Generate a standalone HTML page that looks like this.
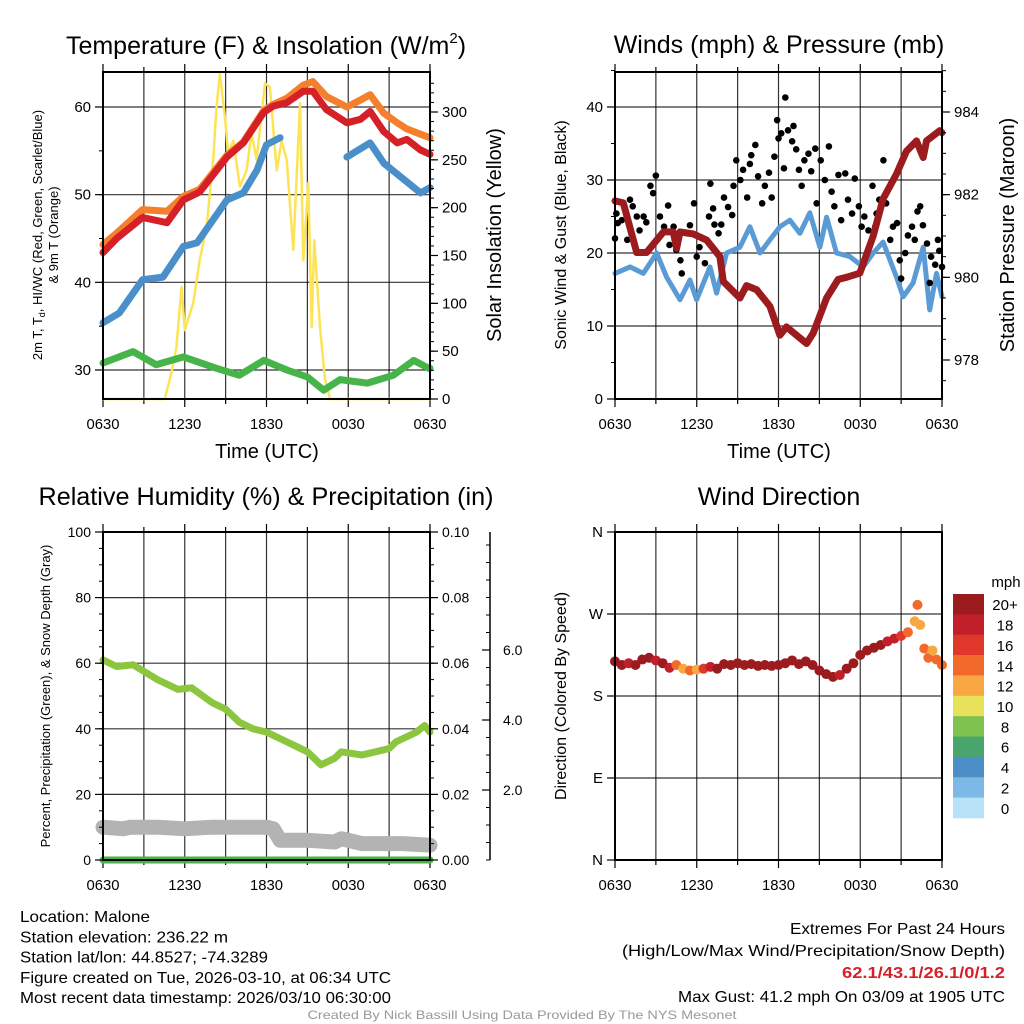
<!DOCTYPE html>
<html><head><meta charset="utf-8"><style>
body{margin:0;background:#fff}
svg{display:block;font-family:"Liberation Sans",sans-serif}
</style></head><body>
<svg id="c" width="1024" height="1024" viewBox="0 0 1024 1024"></svg>
<script>
// ---------- Panel 1 data: temperature ----------
const redHours=[0,1,2.9,4.7,5.9,7.1,9.1,10.3,11.8,12.5,13.5,14.7,15.4,16.4,17.9,18.9,19.6,20.6,21.6,22.3,23.3,24];
const redTemp=[43.4,45,47.4,46.8,49.4,50.3,54.3,55.9,59.4,60.1,60.5,61.8,61.8,59.7,58.2,58.6,59.5,57.2,55.9,56.3,55.1,54.6];
const orangeTemp=[44.3,45.6,48.3,48.1,49.8,50.6,54.5,56,59.6,60.3,61,62.5,62.9,61.2,60,60.8,61.4,59.3,58.2,57.5,56.9,56.5];
const blueHours=[0,1.2,2.9,4.4,5.9,6.9,9.1,10.3,11.3,12,13,16.5,17.9,19.6,20.6,21.8,23.3,24];
const blueTemp=[35.4,36.5,40.3,40.6,44.1,44.5,49.4,50.2,52.8,55.7,56.5,null,54.3,55.9,53.6,52.1,50.2,50.8];
const greenHours=[0,2.2,3.9,5.9,8.3,10,11.8,13.5,15,16.2,17.4,19.4,21.3,22.8,23.9,24];
const greenTemp=[30.8,32.1,30.6,31.5,30.2,29.4,31.1,30,29.2,27.7,28.9,28.5,29.4,31.1,30.2,30.2];
const solarHours=[0,4.53,5.02,5.39,5.76,6,6.62,7.1,7.6,8.09,8.33,8.58,8.95,9.19,9.56,10.05,10.54,10.9,11.27,11.89,12.25,12.75,13.11,13.48,13.97,14.46,14.7,15.07,15.32,15.5,15.93,16.3,16.67,24];
const solarVals=[0,0,27,54,117,72,100,145,180,250,305,340,295,257,270,222,239,278,250,330,326,239,270,250,156,309,145,226,75,166,75,20,0,0];
const timeTicks=["0630","1230","1830","0030","0630"];
const tempTicks=[30,40,50,60];
const solarTicks=[0,50,100,150,200,250,300];
// ---------- Panel 2 data: winds & pressure ----------
const windHours=[0,1.1,2.08,3.06,3.79,4.77,5.5,5.99,6.97,7.46,8.19,9.17,9.9,10.64,11.37,12.1,12.84,13.57,14.3,15.04,15.53,16.26,17.24,18.22,18.95,19.68,20.66,21.15,21.88,22.62,23.1,23.6,24];
const windVals=[17.2,18.1,17.2,20,16.7,13.6,16.3,13.6,18.1,14.5,20,20.8,23.6,20,21.8,23.6,24.5,22.7,25.5,20.8,24.9,20,19.5,18.1,20,21.5,16.7,14,15.9,20.8,12.2,17.2,14];
const gustHours=[0,0.1,0.2,0.5,0.9,1.1,1.3,1.6,1.8,2.1,2.3,2.6,2.8,3,3.3,3.6,3.9,4,4.3,4.5,4.8,4.9,5.3,5.5,5.8,6,6.2,6.6,6.9,7,7.2,7.3,7.6,7.8,8,8.3,8.6,8.7,8.9,9.2,9.4,9.7,9.9,10,10.3,10.5,10.8,11,11.3,11.5,11.7,11.9,12,12.2,12.4,12.5,12.7,13,13.1,13.3,13.5,13.7,13.9,14.2,14.4,14.7,14.8,15.1,15.4,15.7,15.9,16.1,16.4,16.6,16.9,17.1,17.4,17.6,17.9,18.1,18.3,18.6,18.9,19.1,19.2,19.4,19.7,19.9,20.2,20.4,20.7,20.9,21,21.3,21.5,21.8,22,22.2,22.4,22.6,22.9,23.1,23.2,23.5,23.7,23.8,24];
const gustVals=[22,25.4,24.1,24.5,21.8,27.3,26.4,25,23.1,25,24.2,29.2,28.2,30.6,25,23.6,26.5,21.1,23.6,20.4,19,17.2,22.7,23.8,26.8,19.5,20.8,18.6,25,29.5,26.1,23.9,22.7,23.9,27.6,26.3,25.2,29.2,32.7,30,31.4,27.6,32.2,33.4,34.8,30.5,26.8,29.2,31,27.6,33.2,38.2,35.7,36.4,31.6,41.3,36.8,35.3,37.4,34.2,31.4,29.2,32.7,33.6,31.2,34.3,26.8,32.7,30,34.6,28.4,26.4,30.7,24.5,30.9,27.3,25.4,30.2,26.4,23.6,25,23.1,29.2,23.6,25.4,27.3,32.7,26.8,21.8,23.6,24.1,19,16.5,20,22.4,23.6,21.8,25.7,26.4,23.8,21.3,15.9,19.5,18.4,21.8,20.3,18.1];
const presHours=[0,0.61,1.59,2.32,3.55,4.28,4.52,4.77,5.75,6.72,7.7,7.95,9.17,9.66,10.39,11.37,12.1,12.59,14.06,14.55,15.53,16.38,16.99,17.97,18.95,19.68,20.66,21.39,22.13,22.62,22.86,23.84,24];
const presVals=[981.85,981.8,980.6,980.6,981.1,981.1,980.7,981.1,981.05,980.9,980.5,979.9,979.5,979.8,979.7,979.3,978.6,978.8,978.4,978.65,979.5,979.95,980.0,980.1,981.0,981.9,982.5,983.05,983.3,982.9,983.3,983.55,983.5];
const windTicks=[0,10,20,30,40];
const presTicks=[978,980,982,984];
// ---------- Panel 3 data: RH ----------
const rhHours=[0,1,2.2,4,5.5,6.5,8,9,10,11,12,13,14,15,15.5,16,17,17.5,19,20,21,21.5,22.5,23,23.6,24];
const rhVals=[61,59,59.5,55,52,52.5,48,46,42,40,39,37,35,33,31,29,31,33,32,33,34,36,38,39,41,39];
const snowHours=[0,1.5,2,4,6,8,10,12,12.5,13,15,17,17.5,18,19,20,22,24];
const snowVals=[10,9.5,10,10,9.5,10,10,10,9.5,6,6,5.5,6.5,6,5,5,5,4.5];
const precipHours=[0,24];
const precipVals=[0,0];
const rhTicks=[0,20,40,60,80,100];
const precipTicks=["0.00","0.02","0.04","0.06","0.08","0.10"];
const snowTicks=[2.0,4.0,6.0];
// ---------- Panel 4 data: wind direction ----------
const dirHours=[0,0.5,1,1.5,2,2.5,3,3.5,4,4.5,5,5.5,6,6.5,7,7.5,8,8.5,9,9.5,10,10.5,11,11.5,12,12.5,13,13.5,14,14.5,15,15.5,16,16.5,17,17.5,18,18.5,19,19.5,20,20.5,21,21.5,22,22.2,22.4,22.7,23,23.3,23.6,24];
const dirVals=[218,214,216,214,220,222,219,216,211,214,210,208,209,210,212,210,215,214,216,214,215,213,214,213,214,216,219,215,218,214,208,204,201,203,210,216,225,230,233,236,240,243,246,250,262,280,258,232,222,230,220,214];
const dirSpeed=[20,20,18,20,20,20,18,20,18,14,12,14,12,16,18,20,20,20,20,20,20,20,20,20,20,20,20,20,20,20,20,20,20,18,20,20,20,20,20,20,18,18,16,14,13,14,13,14,14,13,14,15];
const dirTicks=["N","E","S","W","N"];
const speedLabels=["20+","18","16","14","12","10","8","6","4","2","0"];
const speedColors=["#9b1b1e","#c1202a","#e0372b","#f26a2b","#f9a742","#e8e25a","#7fc24f","#48a56e","#4b8fc6","#7cb9e6","#b8e2f8"];

const NS="http://www.w3.org/2000/svg";
const svg=document.getElementById('c');
function mk(tag,attrs,parent){const e=document.createElementNS(NS,tag);for(const k in attrs)e.setAttribute(k,attrs[k]);(parent||svg).appendChild(e);return e;}
function txt(s,x,y,size,anchor,parent,extra){const e=mk('text',Object.assign({x:x,y:y,'font-size':size,'text-anchor':anchor||'middle',fill:'#000'},extra||{}),parent);e.textContent=s;return e;}
function scale(d0,d1,r0,r1){return v=>r0+(v-d0)*(r1-r0)/(d1-d0);}

function panel(name,L,R,T,B,hGrid){
  const g=mk('g',{});
  
  
  const x=scale(0,24,L,R);
  for(let h=3;h<24;h+=3){mk('line',{x1:x(h),x2:x(h),y1:T,y2:B,stroke:'#000','stroke-width':1.2,'stroke-opacity':0.8},g);}
  hGrid.forEach(y=>{mk('line',{x1:L,x2:R,y1:y,y2:y,stroke:'#000','stroke-width':1.2,'stroke-opacity':0.8},g);});
  for(let h=0;h<=24;h+=3){const len=(h%6===0)?8:5;
    mk('line',{x1:x(h),x2:x(h),y1:B,y2:B+len,stroke:'#000','stroke-width':1.2},g);
    mk('line',{x1:x(h),x2:x(h),y1:T,y2:T-len,stroke:'#000','stroke-width':1.2},g);}
  timeTicks.forEach((t,i)=>{const e=txt(t,x(i*6),B+30,15,'middle',g,{textLength:33,lengthAdjust:'spacingAndGlyphs'});});
  return {g,x};
}
function frame(g,L,R,T,B){mk('rect',{x:L,y:T,width:R-L,height:B-T,fill:'none',stroke:'#000','stroke-width':2},g);}
function line(g,xs,ys,hours,vals,color,w,name){
  let d='',pen=false;
  hours.forEach((h,i)=>{const v=vals[i];if(v===null){pen=false;return;}d+=(pen?'L':'M')+xs(h).toFixed(1)+','+ys(v).toFixed(1);pen=true;});
  const p=mk('path',{d:d,fill:'none',stroke:color,'stroke-width':w,'stroke-linejoin':'round','stroke-linecap':'round'},g);
  
  
  return p;
}
function yTicks(g,ys,ticks,xAxis,side,labels,minorStep,lo,hi,size){
  const dir=side==='left'?-1:1;
  ticks.forEach((t,i)=>{const y=ys(t);mk('line',{x1:xAxis,x2:xAxis+dir*8,y1:y,y2:y,stroke:'#000','stroke-width':1.2},g);
    const e=txt(labels?labels[i]:String(t),xAxis+dir*12,y+5,size||15,side==='left'?'end':'start',g);
    
    });
  if(minorStep){for(let v=lo;v<=hi+1e-9;v+=minorStep){const y=ys(v);mk('line',{x1:xAxis,x2:xAxis+dir*4,y1:y,y2:y,stroke:'#000','stroke-width':1},g);}}
}

// ===== Panel 1 =====
(function(){
  const L=103,R=430,T=72,B=399;
  const yT=scale(30,60,370,107), yS=scale(0,300,399,112);
  const p=panel('temperature-panel',L,R,T,B,tempTicks.map(yT));
  line(p.g,p.x,yS,solarHours,solarVals,'#fde456',2.5,'solar-insolation-line');
  line(p.g,p.x,yT,greenHours,greenTemp,'#47b449',7,'heat-index-line');
  line(p.g,p.x,yT,blueHours,blueTemp,'#4a8fca',7,'dewpoint-line');
  line(p.g,p.x,yT,redHours,orangeTemp,'#f47f2c',7,'temp-9m-line');
  line(p.g,p.x,yT,redHours,redTemp,'#d62028',7,'temp-2m-line');
  frame(p.g,L,R,T,B);
  yTicks(p.g,yT,tempTicks,L,'left',null,5,30,60);
  yTicks(p.g,yS,solarTicks,R,'right',null,10,0,330);
  txt('',266,54,25,'middle',p.g).innerHTML='Temperature (F) &amp; Insolation (W/m<tspan font-size="15" dy="-11">2</tspan><tspan dy="11">)</tspan>';
  txt('Time (UTC)',267,458,20,'middle',p.g);
  const t1=txt('',0,0,13,'middle',p.g,{transform:'translate(42,235) rotate(-90)'});t1.innerHTML='2m T, T<tspan font-size="9" dy="3">d</tspan><tspan dy="-3">, HI/WC (Red, Green, Scarlet/Blue)</tspan>';
  txt('& 9m T (Orange)',0,0,13,'middle',p.g,{transform:'translate(58,235) rotate(-90)'});
  txt('Solar Insolation (Yellow)',0,0,20,'middle',p.g,{transform:'translate(501,235) rotate(-90)'});
})();

// ===== Panel 2 =====
(function(){
  const L=615,R=942,T=72,B=399;
  const yW=scale(0,40,399,107), yP=scale(978,984,360,112);
  const p=panel('winds-panel',L,R,T,B,[10,20,30,40].map(yW));
  line(p.g,p.x,yW,windHours,windVals,'#5b9bd5',5,'sonic-wind-line');
  const gg=mk('g',{},p.g);
  
  
  gustHours.forEach((h,i)=>{mk('circle',{cx:p.x(h),cy:yW(gustVals[i]),r:3.3,fill:'#000'},gg);});
  line(p.g,p.x,yP,presHours,presVals,'#9b1b1e',7,'pressure-line');
  frame(p.g,L,R,T,B);
  yTicks(p.g,yW,windTicks,L,'left',null,5,0,45);
  yTicks(p.g,yP,presTicks,R,'right',null,0.5,977.5,985);
  txt('Winds (mph) & Pressure (mb)',779,53,25,'middle',p.g);
  txt('Time (UTC)',779,458,20,'middle',p.g);
  txt('Sonic Wind & Gust (Blue, Black)',0,0,16,'middle',p.g,{transform:'translate(566,235) rotate(-90)'});
  txt('Station Pressure (Maroon)',0,0,20,'middle',p.g,{transform:'translate(1014,235) rotate(-90)'});
})();

// ===== Panel 3 =====
(function(){
  const L=103,R=430,T=532,B=860;
  const yR=scale(0,100,860,532), ySn=scale(0,2,860,790);
  const p=panel('humidity-panel',L,R,T,B,[20,40,60,80].map(yR));
  line(p.g,p.x,yR,snowHours,snowVals,'#b3b3b3',15,'snow-depth-line');
  line(p.g,p.x,yR,rhHours,rhVals,'#8cc63f',7,'relative-humidity-line');
  line(p.g,p.x,yR,precipHours,precipVals,'#47b449',7,'precipitation-line');
  frame(p.g,L,R,T,B);
  yTicks(p.g,yR,rhTicks,L,'left',null,5,0,100,14);
  yTicks(p.g,yR,[0,20,40,60,80,100],R,'right',precipTicks,5,0,100,14);
  mk('line',{x1:490,x2:490,y1:532,y2:860,stroke:'#000','stroke-width':1.5},p.g);
  snowTicks.forEach(t=>{mk('line',{x1:490,x2:482,y1:ySn(t),y2:ySn(t),stroke:'#000','stroke-width':1.2},p.g);txt(t.toFixed(1),503,ySn(t)+5,14,'start',p.g);});
  for(let v=0;v<=9;v+=0.5){mk('line',{x1:490,x2:486,y1:ySn(v),y2:ySn(v),stroke:'#000','stroke-width':1},p.g);}
  txt('Relative Humidity (%) & Precipitation (in)',266,505,25,'middle',p.g,{textLength:455,lengthAdjust:'spacingAndGlyphs'});
  txt('Percent, Precipitation (Green), & Snow Depth (Gray)',0,0,13,'middle',p.g,{transform:'translate(50,696) rotate(-90)'});
})();

// ===== Panel 4 =====
(function(){
  const L=615,R=942,T=532,B=860;
  const yD=scale(0,360,860,532);
  const p=panel('wind-direction-panel',L,R,T,B,[90,180,270].map(yD));
  const gg=mk('g',{},p.g);
  
  
  function col(s){let i=Math.min(10,Math.floor(s/2));return speedColors[10-i];}
  dirHours.forEach((h,i)=>{mk('circle',{cx:p.x(h),cy:yD(dirVals[i]),r:5,fill:col(dirSpeed[i])},gg);});
  frame(p.g,L,R,T,B);
  yTicks(p.g,yD,[0,90,180,270,360],L,'left',dirTicks,null,0,0,15);
  txt('Wind Direction',779,505,25,'middle',p.g);
  txt('Direction (Colored By Speed)',0,0,16,'middle',p.g,{transform:'translate(566,696) rotate(-90)'});
  const cb=mk('g',{});
  
  
  const h=(818-594)/11;
  speedColors.forEach((c,i)=>{mk('rect',{x:953,y:594+i*h,width:31,height:h+0.3,fill:c},cb);txt(speedLabels[i],1005,594+i*h+h/2+6,15,'middle',cb);});
  txt('mph',1006,587,15,'middle',cb);
})();

// ===== Footer text =====
const info=["Location: Malone","Station elevation: 236.22 m","Station lat/lon: 44.8527; -74.3289","Figure created on Tue, 2026-03-10, at 06:34 UTC","Most recent data timestamp: 2026/03/10 06:30:00"];
const infoW=[130,208,248,371,371];
info.forEach((s,i)=>{const e=txt(s,20,922+i*20.3,16,'start',null,{textLength:infoW[i],lengthAdjust:'spacingAndGlyphs'});});
const ext=[["Extremes For Past 24 Hours",215,'#000',934],["(High/Low/Max Wind/Precipitation/Snow Depth)",383,'#000',956],["62.1/43.1/26.1/0/1.2",163,'#d62028',978],["Max Gust: 41.2 mph On 03/09 at 1905 UTC",327,'#000',1002]];
ext.forEach((a,i)=>{const e=txt(a[0],1005,a[3],16,'end',null,{textLength:a[1],lengthAdjust:'spacingAndGlyphs',fill:a[2]});if(i===2)e.setAttribute('font-weight','bold');});
const cr=txt('Created By Nick Bassill Using Data Provided By The NYS Mesonet',522,1019,12,'middle',null,{fill:'#999',textLength:429,lengthAdjust:'spacingAndGlyphs'});


</script>
</body></html>
